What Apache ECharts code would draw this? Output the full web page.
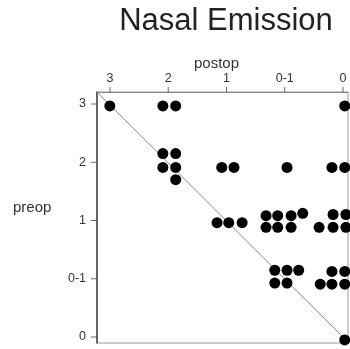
<!DOCTYPE html>
<html>
<head>
<meta charset="utf-8">
<script src="https://cdn.jsdelivr.net/npm/echarts@6/dist/echarts.min.js"></script>
<style>
  html, body { margin: 0; padding: 0; background: #fff; }
  #main { width: 350px; height: 349px; }
</style>
</head>
<body>
<div id="main"></div>
<script>
// score categories, index 0..4
var scoreLabels = ["0", "0-1", "1", "2", "3"];

// each dot: postop score index (x) and preop score index (y), jittered as in the picture
var postop = [
  4.00, 3.09, 2.87, -0.03,
  3.09, 2.87, 3.09, 2.87, 2.87,
  2.08, 1.87, 0.96, 0.19, -0.03,
  2.16, 1.96, 1.73,
  1.32, 1.12, 0.89, 0.69,
  1.32, 1.12, 0.89,
  0.41,
  0.17, -0.05, 0.17, -0.05,
  1.17, 0.96, 0.76,
  1.17, 0.96,
  0.39,
  0.19, -0.03, 0.19, -0.03,
  -0.03
];
var preop = [
  3.98, 3.98, 3.98, 3.98,
  3.16, 3.16, 2.92, 2.92, 2.71,
  2.92, 2.92, 2.92, 2.92, 2.92,
  1.97, 1.97, 1.97,
  2.09, 2.09, 2.09, 2.13,
  1.89, 1.89, 1.89,
  1.89,
  2.11, 2.11, 1.89, 1.89,
  1.15, 1.15, 1.15,
  0.93, 0.93,
  0.91,
  1.13, 1.13, 0.91, 0.91,
  -0.05
];

var points = postop.map(function(x, i) { return [x, preop[i]] })
var fmt = function(v) { return scoreLabels[Math.round(v)] }
var labelFont = {fontFamily: "Liberation Sans", fontSize: 12.5, color: "#333"}
var tickAxis = function(extra) {
  return Object.assign({type: "value", min: 0, max: 4, interval: 1, splitLine: {show: false},
    axisLine: {show: false, onZero: false}, axisTick: {show: false}}, extra)
}
var noAxis = function(grid) { return {type: "value", gridIndex: grid, show: false, min: 0, max: 1} }
// tick marks drawn as thin rects on the whole scores, at the edge of the tick grids
var xTicks = scoreLabels.map(function(s, i) { return [i, 1] })
var yTicks = scoreLabels.map(function(s, i) { return [0, i] })

var chart = echarts.init(document.getElementById("main"))
chart.setOption({
  animation: false,
  title: {
    text: "Nasal Emission", left: 221, top: 1, textAlign: "center",
    textStyle: {fontFamily: "Liberation Sans", fontSize: 31, fontWeight: "normal", color: "#222"}
  },
  graphic: [
    {type: "text", left: 194, top: 56, style: {text: "postop", fontFamily: "Liberation Sans", fontSize: 15, fill: "#333"}},
    {type: "text", left: 13, top: 200, style: {text: "preop", fontFamily: "Liberation Sans", fontSize: 15, fill: "#333"}}
  ],
  // grid 0 is the plot box with the data, grids 1 and 2 only carry the ticks on whole scores
  grid: [
    {left: 97, top: 92, right: 2, bottom: 6, show: true, borderColor: "#999", borderWidth: 1},
    {left: 110, top: 92, right: 7, bottom: 12},
    {left: 97, top: 104, right: 7, bottom: 12}
  ],
  xAxis: [
    {type: "value", gridIndex: 0, position: "top", inverse: true, min: -0.086, max: 4.22,
      splitLine: {show: false}, axisTick: {show: false}, axisLabel: {show: false},
      axisLine: {show: true, onZero: false, lineStyle: {color: "#888", width: 1}}},
    tickAxis({gridIndex: 1, position: "top", inverse: true,
      axisLabel: Object.assign({margin: 7, formatter: fmt}, labelFont)}),
    tickAxis({gridIndex: 2, show: false})
  ],
  yAxis: [
    {type: "value", gridIndex: 0, min: -0.103, max: 4.22,
      splitLine: {show: false}, axisTick: {show: false}, axisLabel: {show: false},
      axisLine: {show: true, onZero: false, lineStyle: {color: "#444", width: 1.5}}},
    noAxis(1),
    tickAxis({gridIndex: 2, position: "left",
      axisLabel: Object.assign({margin: 11, formatter: fmt}, labelFont)})
  ],
  series: [
    {type: "line", data: [[-0.05, -0.05], [4.3, 4.3]], symbol: "none", silent: true,
      lineStyle: {color: "#888", width: 1}, z: 1},
    {type: "scatter", data: points, symbolSize: 11, itemStyle: {color: "#000", opacity: 1}, clip: false, z: 2},
    {type: "scatter", xAxisIndex: 1, yAxisIndex: 1, data: xTicks, symbol: "rect", symbolSize: [1, 5],
      symbolOffset: [0, -2.5], itemStyle: {color: "#444"}, clip: false, silent: true, z: 3},
    {type: "scatter", xAxisIndex: 2, yAxisIndex: 2, data: yTicks, symbol: "rect", symbolSize: [6, 1],
      symbolOffset: [-3, 0], itemStyle: {color: "#444"}, clip: false, silent: true, z: 3}
  ]
})
</script>
</body>
</html>
